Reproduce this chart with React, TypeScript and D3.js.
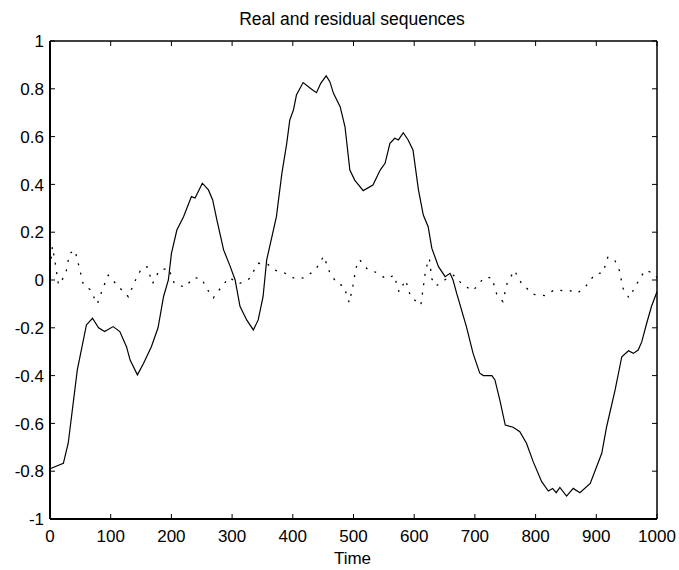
import React from "react";
import * as d3 from "d3";

const title = "Real and residual sequences";
const xLabel = "Time";
const xTicks = [0, 100, 200, 300, 400, 500, 600, 700, 800, 900, 1000];
const yTicks = [-1, -0.8, -0.6, -0.4, -0.2, 0, 0.2, 0.4, 0.6, 0.8, 1];

const realT = [0,22,30,45,60,70,80,90,104,115,126,132,144,154,167,178,187,195,200,209,220,233,239,251,261,268,275,286,297,305,313,324,335,343,351,357,373,382,390,395,401,406,417,431,439,446,455,461,467,478,486,494,502,516,532,544,552,560,568,574,582,590,598,607,615,623,629,640,651,659,664,670,686,697,708,714,728,733,741,750,763,774,785,796,810,821,828,834,840,851,862,873,890,909,917,931,942,953,961,969,975,983,991,1000];
const realV = [-0.79,-0.767,-0.683,-0.376,-0.188,-0.16,-0.2,-0.216,-0.195,-0.216,-0.279,-0.335,-0.397,-0.349,-0.279,-0.2,-0.07,0,0.11,0.209,0.265,0.349,0.343,0.405,0.377,0.335,0.251,0.126,0.056,0,-0.11,-0.167,-0.209,-0.167,-0.07,0.084,0.265,0.446,0.572,0.669,0.711,0.774,0.826,0.798,0.784,0.823,0.854,0.83,0.781,0.725,0.641,0.46,0.418,0.374,0.397,0.46,0.488,0.572,0.593,0.586,0.616,0.586,0.544,0.377,0.272,0.223,0.133,0.056,0.014,0.028,0,-0.056,-0.195,-0.307,-0.39,-0.4,-0.4,-0.418,-0.502,-0.607,-0.616,-0.635,-0.683,-0.76,-0.844,-0.883,-0.872,-0.89,-0.868,-0.904,-0.872,-0.89,-0.851,-0.725,-0.614,-0.46,-0.321,-0.296,-0.307,-0.293,-0.258,-0.181,-0.11,-0.049];

const resT = [0,4,8,11,14,20,27,32,41,48,55,66,78,87,96,110,129,140,151,160,169,180,195,205,222,237,250,258,269,282,295,312,328,343,359,372,386,404,420,438,451,461,473,484,493,499,504,510,523,539,554,567,575,586,594,611,615,619,625,629,636,650,665,680,697,715,728,736,746,753,765,777,796,815,832,846,857,869,883,898,911,919,930,938,944,954,967,980,994,1000];
const resV = [0.05,0.14,0.08,0.03,-0.02,0,0.04,0.11,0.125,0.055,-0.02,-0.04,-0.1,-0.035,0.02,-0.02,-0.07,-0.005,0.05,0.055,-0.015,0.04,0.05,-0.015,-0.03,0.01,0.005,-0.035,-0.075,-0.03,0.01,-0.015,0.005,0.07,0.065,0.04,0.03,0.005,0.01,0.045,0.1,0.03,-0.015,-0.025,-0.095,-0.025,0.05,0.085,0.045,0.03,0.005,0.02,-0.05,0,-0.07,-0.105,-0.03,0.045,0.09,0.005,-0.025,0,0.02,-0.02,-0.045,0.01,0.01,-0.06,-0.09,-0.015,0.04,-0.015,-0.06,-0.065,-0.04,-0.045,-0.045,-0.055,-0.025,0.025,0.03,0.095,0.085,0.04,-0.035,-0.075,-0.015,0.04,0.03,0.01];

const W = 679, H = 570;
const L = 50, R = 657, T = 41, B = 519;
const FONT = "'Liberation Sans', Arial, sans-serif";

export default function App() {
  const x = d3.scaleLinear().domain([0, 1000]).range([L, R]);
  const y = d3.scaleLinear().domain([-1, 1]).range([B, T]);
  const line = d3.line<[number, number]>().x(d => x(d[0])).y(d => y(d[1]));
  const realPts = realT.map((t, i) => [t, realV[i]] as [number, number]);
  const resPts = resT.map((t, i) => [t, resV[i]] as [number, number]);
  const tl = 5;
  return (
    <svg width={W} height={H} style={{ position: "absolute", left: 0, top: 0, background: "#fff" }} fontFamily={FONT}>
      <rect x={0} y={0} width={W} height={H} fill="#fff" />
      <path d={line(resPts) || ""} fill="none" stroke="#000" strokeWidth={1.3} strokeDasharray="2 7.5" />
      <path d={line(realPts) || ""} fill="none" stroke="#000" strokeWidth={1.2} />
      {/* box */}
      <line x1={L} x2={R} y1={T} y2={T} stroke="#000" strokeWidth={1.5} />
      <line x1={R} x2={R} y1={T} y2={B} stroke="#000" strokeWidth={1.5} />
      <line x1={L} x2={L} y1={T} y2={B} stroke="#000" strokeWidth={2} />
      <line x1={L} x2={R} y1={B} y2={B} stroke="#000" strokeWidth={2} />
      {xTicks.map(v => (
        <g key={"x" + v}>
          <line x1={x(v)} x2={x(v)} y1={B} y2={B - tl} stroke="#000" strokeWidth={1} />
          <line x1={x(v)} x2={x(v)} y1={T} y2={T + tl} stroke="#000" strokeWidth={1} />
          <text x={x(v)} y={541.5} textAnchor="middle" fontSize={17} fill="#000">{v}</text>
        </g>
      ))}
      {yTicks.map(v => (
        <g key={"y" + v}>
          <line x1={L} x2={L + tl} y1={y(v)} y2={y(v)} stroke="#000" strokeWidth={1} />
          <line x1={R} x2={R - tl} y1={y(v)} y2={y(v)} stroke="#000" strokeWidth={1} />
          <text x={44} y={y(v)} dy="0.36em" textAnchor="end" fontSize={17} fill="#000">{String(v)}</text>
        </g>
      ))}
      <text x={352} y={25} textAnchor="middle" fontSize={17.5} fill="#000">{title}</text>
      <text x={352.5} y={564} textAnchor="middle" fontSize={17} fill="#000">{xLabel}</text>
    </svg>
  );
}
